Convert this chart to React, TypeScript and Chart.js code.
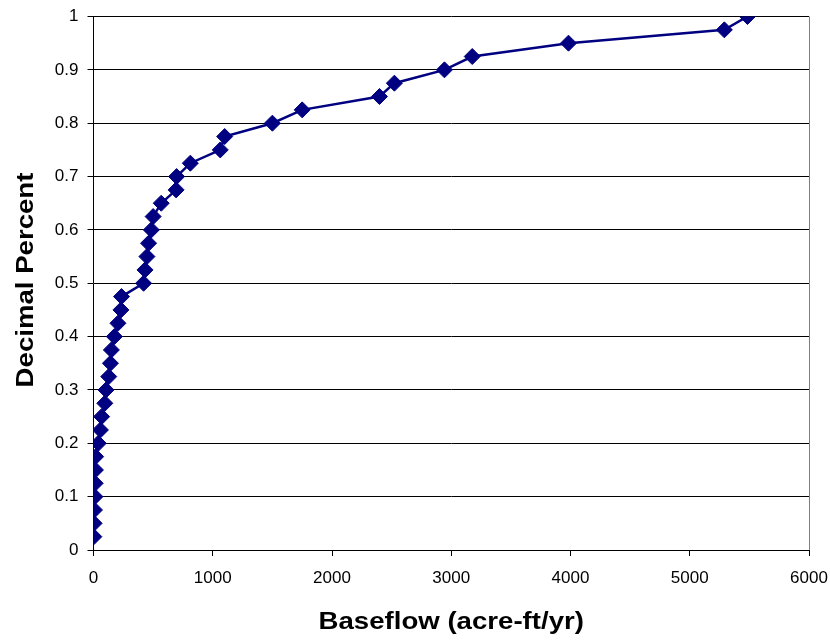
import React, { useEffect, useRef } from "react";
import { Chart, registerables } from "chart.js";

Chart.register(...registerables);

const baseflow = [
  3, 5, 8, 12, 14, 16, 18, 40, 58, 68,
  95, 105, 128, 142, 150, 175, 205, 230, 235, 420,
  432, 448, 462, 485, 500, 568, 693, 697, 812, 1063,
  1100, 1500, 1750, 2398, 2523, 2943, 3176, 3983, 5290, 5484,
];
const decimalPercent = [
  0.025, 0.05, 0.075, 0.1, 0.125, 0.15, 0.175, 0.2, 0.225, 0.25,
  0.275, 0.3, 0.325, 0.35, 0.375, 0.4, 0.425, 0.45, 0.475, 0.5,
  0.525, 0.55, 0.575, 0.6, 0.625, 0.65, 0.675, 0.7, 0.725, 0.75,
  0.775, 0.8, 0.825, 0.85, 0.875, 0.9, 0.925, 0.95, 0.975, 1.0,
];
const xTickLabels = ["0", "1000", "2000", "3000", "4000", "5000", "6000"];
const yTickLabels = ["0", "0.1", "0.2", "0.3", "0.4", "0.5", "0.6", "0.7", "0.8", "0.9", "1"];
const xTitle = "Baseflow (acre-ft/yr)";
const yTitle = "Decimal Percent";

const FONT = "'Liberation Sans', Arial, sans-serif";
const STRETCH = 1.15;

const decorations = {
  id: "decorations",
  afterDraw(chart: any) {
    const { ctx, chartArea } = chart;
    ctx.save();
    // right border of plot area
    ctx.strokeStyle = "#808080";
    ctx.lineWidth = 1;
    ctx.beginPath();
    const x = Math.round(chartArea.right) + 0.5;
    ctx.moveTo(x, chartArea.top);
    ctx.lineTo(x, chartArea.bottom);
    ctx.stroke();

    ctx.fillStyle = "#000";
    ctx.font = `bold 24px ${FONT}`;
    ctx.textAlign = "center";
    ctx.textBaseline = "alphabetic";
    // x title
    ctx.save();
    ctx.translate((chartArea.left + chartArea.right) / 2, 629);
    ctx.scale(STRETCH, 1);
    ctx.fillText(xTitle, 0, 0);
    ctx.restore();
    // y title
    ctx.save();
    ctx.translate(33, 280);
    ctx.rotate(-Math.PI / 2);
    ctx.scale(STRETCH, 1);
    ctx.fillText(yTitle, 0, 0);
    ctx.restore();
    ctx.restore();
  },
};

export default function App() {
  const ref = useRef<HTMLCanvasElement>(null);
  useEffect(() => {
    if (!ref.current) return;
    const points = baseflow.map((x, i) => ({ x, y: decimalPercent[i] }));
    const chart = new Chart(ref.current, {
      type: "scatter",
      data: {
        datasets: [
          {
            data: points,
            showLine: true,
            borderColor: "#000080",
            backgroundColor: "#000080",
            borderWidth: 2.5,
            pointStyle: "rectRot",
            pointRadius: 8,
            pointBorderWidth: 1,
            pointBorderColor: "#000080",
            pointBackgroundColor: "#000080",
          },
        ],
      },
      options: {
        responsive: false,
        animation: false,
        layout: { padding: 0 },
        plugins: { legend: { display: false }, tooltip: { enabled: false } },
        scales: {
          x: {
            type: "linear",
            min: 0,
            max: 6000,
            afterFit: (s: any) => {
              s.height = 91;
              s.paddingLeft = 0;
              s.paddingRight = 21;
            },
            ticks: {
              stepSize: 1000,
              color: "#000",
              padding: 12,
              maxRotation: 0,
              font: { family: FONT, size: 17 },
              callback: (_v: any, i: number) => xTickLabels[i],
            },
            grid: { drawOnChartArea: false, drawTicks: true, tickLength: 6, color: "#000" },
            border: { color: "#000", width: 1 },
          },
          y: {
            type: "linear",
            min: 0,
            max: 1,
            afterFit: (s: any) => {
              s.width = 93.5;
              s.paddingTop = 16.5;
              s.paddingBottom = 0;
            },
            ticks: {
              stepSize: 0.1,
              color: "#000",
              padding: 9,
              font: { family: FONT, size: 17 },
              callback: (_v: any, i: number) => yTickLabels[i],
            },
            grid: { drawTicks: true, tickLength: 6, color: "#000" },
            border: { color: "#000", width: 1 },
          },
        },
      },
      plugins: [decorations],
    });
    return () => chart.destroy();
  }, []);
  return (
    <div style={{ position: "absolute", left: 0, top: 0, width: 830, height: 641 }}>
      <canvas ref={ref} width={830} height={641} style={{ display: "block" }} />
    </div>
  );
}
